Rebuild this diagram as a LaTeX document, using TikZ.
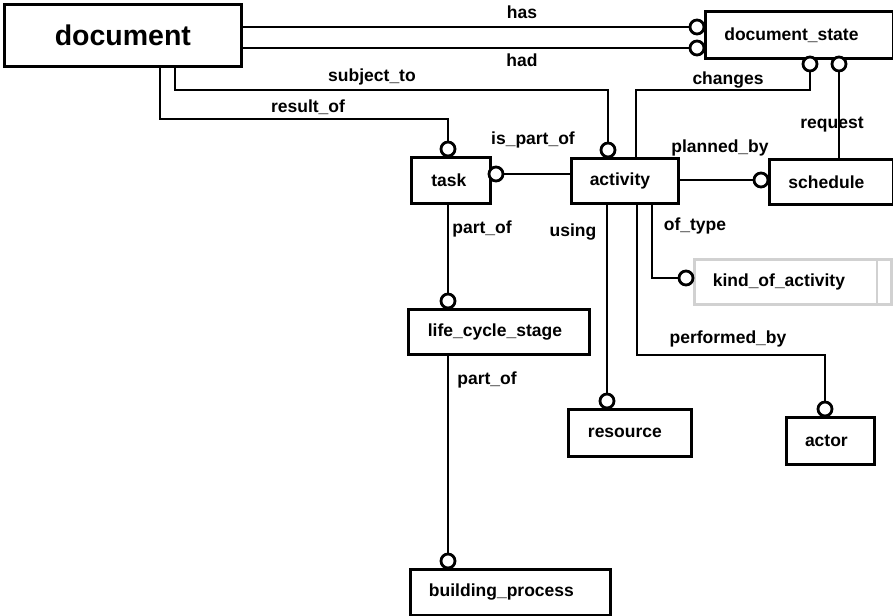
\documentclass[tikz,border=0pt]{standalone}
\usepackage{fontspec}
\setmainfont{Liberation Sans}
\begin{document}
\begin{tikzpicture}[x=1pt,y=-1pt,
  ent/.style={draw, line width=2.8pt, fill=white, anchor=north west, inner sep=0pt,
    font=\bfseries\fontsize{17.5}{19}\selectfont},
  weak/.style={ent, draw=black!18},
  opt/.style={circle, draw, line width=2.8pt, fill=white, minimum size=14pt, inner sep=0pt},
  link/.style={line width=2.8pt},
  rel/.style={font=\bfseries\fontsize{17.5}{19}\selectfont, inner sep=0pt}]
\useasboundingbox (0,0) rectangle (893,615);

% entities
\node[ent, minimum width=237pt, minimum height=62pt, font=\bfseries\fontsize{28.5}{30}\selectfont] (doc) at (3,3) {document};
\node[ent, minimum width=188pt, minimum height=47pt] (dstate) at (704,10) {document\_state\hspace*{16pt}};
\node[ent, minimum width=79pt, minimum height=46pt] (task) at (410,156) {task\hspace*{4pt}};
\node[ent, minimum width=107pt, minimum height=45pt] (act) at (570,157) {activity\hspace*{10pt}};
\node[ent, minimum width=124pt, minimum height=45pt] (sched) at (768,158) {schedule\hspace*{10pt}};
\node[weak, minimum width=197pt, minimum height=45pt] (kind) at (693,258) {kind\_of\_activity\hspace*{28pt}};
\draw[draw=black!18, line width=2.8pt] (877,258) -- (877,303);
\node[ent, minimum width=181pt, minimum height=45pt] (lcs) at (407,308) {life\_cycle\_stage\hspace*{8pt}};
\node[ent, minimum width=123pt, minimum height=47pt] (res) at (567,408) {resource\hspace*{10pt}};
\node[ent, minimum width=88pt, minimum height=47pt] (actor) at (785,416) {actor\hspace*{8pt}};
\node[ent, minimum width=200pt, minimum height=46pt] (bp) at (409,568) {building\_process\hspace*{18pt}};

% optionality circles
\node[opt] (cHas) at (697,27) {};
\node[opt] (cHad) at (697,48) {};
\node[opt] (cChg) at (810,64) {};
\node[opt] (cReq) at (839,64) {};
\node[opt] (cSub) at (608,150) {};
\node[opt] (cRes) at (448,149) {};
\node[opt] (cPart) at (496,174) {};
\node[opt] (cPlan) at (761,180) {};
\node[opt] (cType) at (686,278) {};
\node[opt] (cUse) at (607,401) {};
\node[opt] (cPerf) at (825,409) {};
\node[opt] (cLcs) at (448,301) {};
\node[opt] (cBp) at (448,561) {};

% waypoints
\coordinate (chgA) at (810,90);
\coordinate (chgB) at (636,90);
\coordinate (subA) at (175,90);
\coordinate (resA) at (160,119);
\coordinate (typA) at (652,278);
\coordinate (perfA) at (637,355);
\coordinate (perfB) at (825,355);

% relationships
\draw[link] (doc.east |- cHas) -- (cHas.west);
\draw[link] (doc.east |- cHad) -- (cHad.west);
\draw[link] (cChg.south) -- (chgA) -- (chgB) -- (chgB |- act.north);
\draw[link] (doc.south -| subA) -- (subA) -- (subA -| cSub) -- (cSub.north);
\draw[link] (doc.south -| resA) -- (resA) -- (resA -| cRes) -- (cRes.north);
\draw[link] (cPart.east) -- (act.west |- cPart);
\draw[link] (act.east |- cPlan) -- (cPlan.west);
\draw[link] (act.south -| typA) -- (typA) -- (cType.west);
\draw[link] (act.south -| cUse) -- (cUse.north);
\draw[link] (act.south -| perfA) -- (perfA) -- (perfB) -- (cPerf.north);
\draw[link] (task.south -| cLcs) -- (cLcs.north);
\draw[link] (lcs.south -| cBp) -- (cBp.north);

% relationship names
\node[rel] (lHas) at (522,12) {has};
\node[rel] (lHad) at (522,60) {had};
\node[rel] (lChg) at (728,80) {changes};
\node[rel] (lSub) at (372,77) {subject\_to};
\node[rel] (lRes) at (308,107) {result\_of};
\node[rel] (lPart) at (533,140) {is\_part\_of};
\node[rel] (lPlan) at (720,148) {planned\_by};
\node[rel] (lReq) at (832,125) {request};
\node[rel] (lType) at (695,226) {of\_type};
\node[rel] (lUse) at (573,232) {using};
\node[rel] (lPart1) at (482,229) {part\_of};
\node[rel] (lPart2) at (487,380) {part\_of};
\node[rel] (lPerf) at (728,339) {performed\_by};
\draw[link] (cReq.south) -- (cReq |- sched.north);
\end{tikzpicture}
\end{document}
